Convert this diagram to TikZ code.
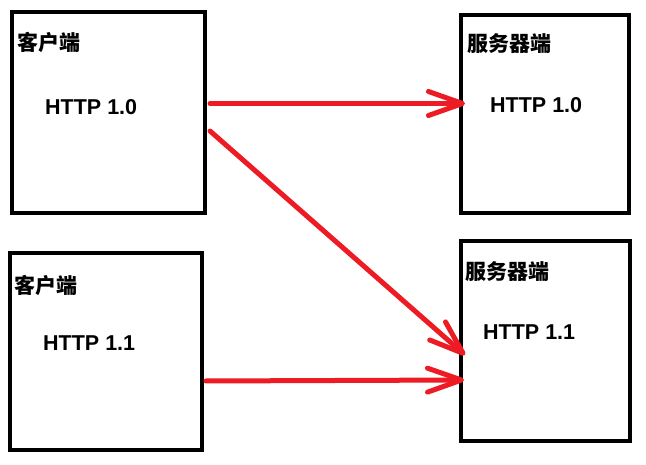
\documentclass[tikz,border=0pt]{standalone}
\usepackage{fontspec}
\setmainfont{Liberation Sans}
\newfontfamily\cjk{Noto Sans CJK SC}
\usepackage{xcolor}
\usepackage{tikz}
\usetikzlibrary{arrows.meta}
\definecolor{paintred}{HTML}{ED1C24}

\begin{document}
\begin{tikzpicture}[
    x=1pt, y=-1pt,
    box/.style={draw, line width=4pt, minimum width=#1, inner sep=0pt},
    tag/.style={anchor=base west, inner sep=0pt, font=\fontsize{21pt}{21pt}\selectfont\bfseries\cjk},
    ver/.style={anchor=base west, inner sep=0pt, font=\fontsize{21.5pt}{21.5pt}\selectfont\bfseries},
    link/.style={draw=paintred, line width=5pt, line cap=round, -{Straight Barb[length=34pt, width=24pt, round]}}
  ]
    \useasboundingbox (0,0) rectangle (646,465);
    % client side
    \node[box=193pt, minimum height=201pt] (c10) at (108.5,112.5) {};
    \node[box=192.5pt, minimum height=197pt] (c11) at (105.75,351.5) {};
    % server side
    \node[box=168pt, minimum height=198pt] (s10) at (545,114) {};
    \node[box=169pt, minimum height=200pt] (s11) at (545.5,341) {};
    \node[tag] (c10t) at (17.5,50.5) {客户端};
    \node[ver] (c10v) at (45,115) {HTTP 1.0};
    \node[tag] (c11t) at (14.5,293.5) {客户端};
    \node[ver] (c11v) at (43,351) {HTTP 1.1};
    \node[tag] (s10t) at (467.5,51.5) {服务器端};
    \node[ver] (s10v) at (490,113) {HTTP 1.0};
    \node[tag] (s11t) at (465.5,279.5) {服务器端};
    \node[ver] (s11v) at (483,340) {HTTP 1.1};
    \draw[link] ([xshift=3pt,yshift=9pt]c10.east) -- ([xshift=6pt,yshift=10.5pt]s10.west);
    \draw[link] ([xshift=3pt,yshift=-18.5pt]c10.east) -- ([xshift=6pt,yshift=-14pt]s11.west);
    \draw[link] ([xshift=2pt,yshift=-29.5pt]c11.east) -- ([xshift=5pt,yshift=-39pt]s11.west);
  \end{tikzpicture}
\end{document}
